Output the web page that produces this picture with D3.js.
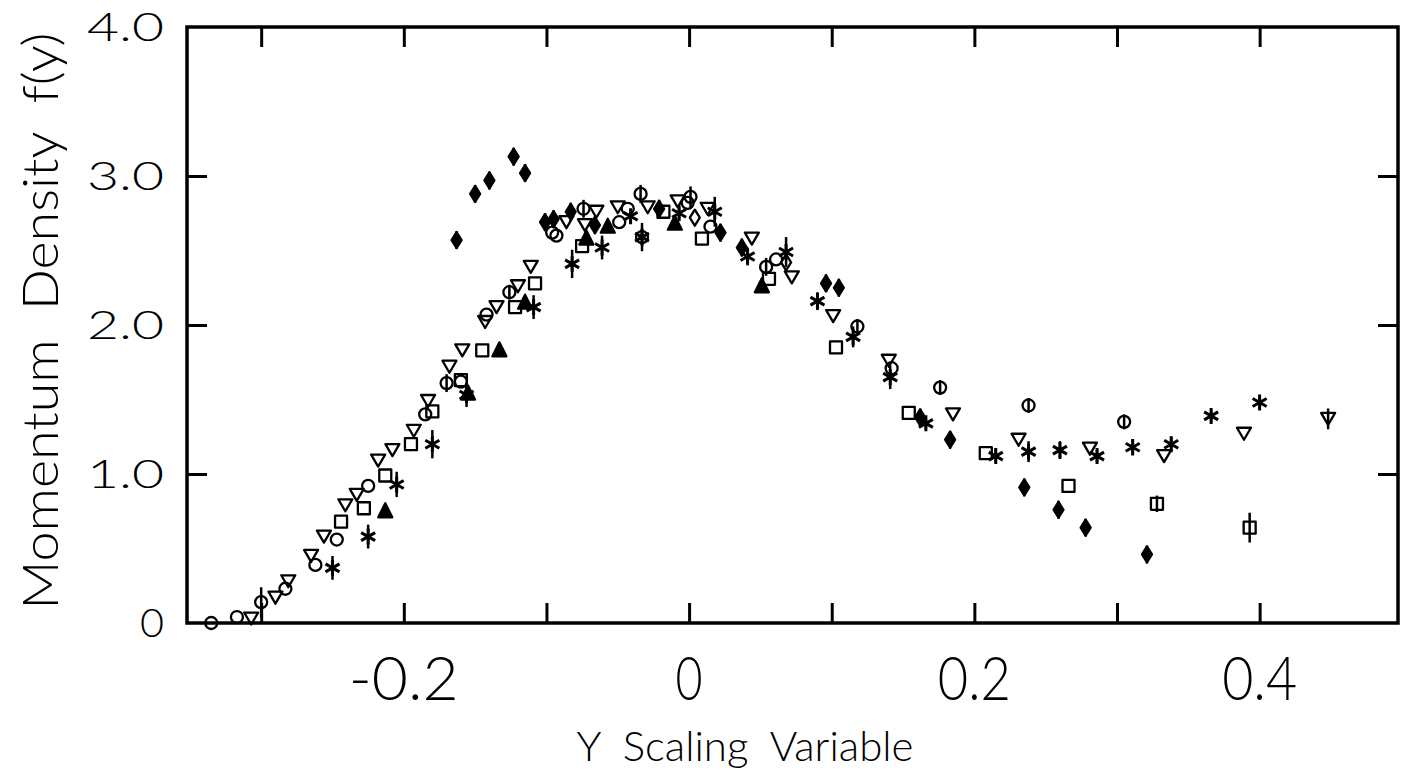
<!DOCTYPE html>
<html>
<head>
<meta charset="utf-8">
<script src="https://cdn.jsdelivr.net/npm/d3@7"></script>
<style>
  body { margin: 0; background: #fff; }
  text { font-family: Lato, "DejaVu Sans", sans-serif; font-weight: 300; fill: #000; }
</style>
</head>
<body>
<div id="chart"></div>
<script>
// filled diamonds
var diamondX = [-0.163, -0.150, -0.140, -0.123, -0.115, -0.101, -0.095, -0.083, -0.066, -0.021, 0.022, 0.037, 0.096, 0.105, 0.162, 0.183, 0.235, 0.259, 0.278, 0.321];
var diamondY = [2.57, 2.88, 2.97, 3.13, 3.02, 2.69, 2.71, 2.76, 2.67, 2.78, 2.62, 2.52, 2.28, 2.25, 1.38, 1.23, 0.91, 0.76, 0.64, 0.46];
var diamondErr = [0.06, 0.06, 0.06, 0.06, 0.06, 0.06, 0.06, 0.06, 0.06, 0.06, 0.06, 0.06, 0.06, 0.06, 0.06, 0.06, 0.06, 0.06, 0.06, 0.06];

// open circles
var circleX = [-0.335, -0.317, -0.300, -0.283, -0.262, -0.247, -0.225, -0.185, -0.170, -0.160, -0.142, -0.126, -0.096, -0.093, -0.074, -0.049, -0.043, -0.034, -0.033, -0.001, 0.001, 0.015, 0.054, 0.061, 0.118, 0.142, 0.176, 0.238, 0.305];
var circleY = [0.00, 0.04, 0.14, 0.23, 0.39, 0.56, 0.92, 1.40, 1.61, 1.62, 2.07, 2.22, 2.62, 2.60, 2.78, 2.69, 2.78, 2.88, 2.59, 2.82, 2.86, 2.66, 2.39, 2.44, 1.99, 1.71, 1.58, 1.46, 1.35];
var circleErr = [0, 0, 0.1, 0, 0, 0, 0, 0, 0.06, 0, 0, 0.05, 0, 0, 0.06, 0, 0, 0.06, 0.06, 0, 0.07, 0, 0.06, 0, 0.05, 0, 0.05, 0.05, 0.05];

// open inverted triangles
var triDownX = [-0.307, -0.290, -0.281, -0.265, -0.256, -0.241, -0.233, -0.218, -0.208, -0.193, -0.183, -0.168, -0.159, -0.143, -0.135, -0.120, -0.111, -0.086, -0.073, -0.065, -0.050, -0.029, -0.008, 0.013, 0.044, 0.072, 0.101, 0.140, 0.185, 0.231, 0.281, 0.333, 0.389, 0.448];
var triDownY = [0.03, 0.17, 0.28, 0.45, 0.58, 0.79, 0.86, 1.09, 1.16, 1.29, 1.49, 1.72, 1.83, 2.02, 2.12, 2.26, 2.39, 2.69, 2.67, 2.76, 2.79, 2.79, 2.83, 2.78, 2.58, 2.32, 2.06, 1.76, 1.40, 1.23, 1.17, 1.12, 1.27, 1.37];
var triDownErr = [0, 0, 0, 0, 0, 0, 0, 0, 0, 0, 0, 0, 0, 0, 0, 0, 0, 0, 0, 0, 0, 0, 0, 0, 0, 0, 0, 0, 0, 0, 0, 0, 0, 0.07];

// open squares
var squareX = [-0.244, -0.228, -0.213, -0.195, -0.180, -0.160, -0.145, -0.122, -0.108, -0.075, -0.018, 0.009, 0.056, 0.103, 0.154, 0.208, 0.266, 0.328, 0.393];
var squareY = [0.68, 0.77, 0.99, 1.20, 1.42, 1.63, 1.83, 2.12, 2.28, 2.53, 2.76, 2.58, 2.31, 1.85, 1.41, 1.14, 0.92, 0.80, 0.64];
var squareErr = [0, 0, 0, 0, 0, 0, 0, 0, 0, 0, 0, 0, 0, 0, 0, 0, 0, 0.055, 0.1];

// filled triangles
var triUpX = [-0.213, -0.155, -0.133, -0.115, -0.072, -0.057, -0.010, 0.051];
var triUpY = [0.75, 1.54, 1.83, 2.15, 2.58, 2.66, 2.68, 2.26];

// asterisks
var starX = [-0.250, -0.225, -0.205, -0.180, -0.156, -0.109, -0.082, -0.061, -0.041, -0.033, -0.007, 0.018, 0.041, 0.068, 0.090, 0.115, 0.141, 0.166, 0.215, 0.238, 0.260, 0.286, 0.311, 0.338, 0.366, 0.400];
var starY = [0.37, 0.58, 0.93, 1.20, 1.53, 2.12, 2.41, 2.52, 2.73, 2.59, 2.75, 2.76, 2.46, 2.49, 2.16, 1.92, 1.65, 1.34, 1.12, 1.15, 1.16, 1.12, 1.18, 1.20, 1.39, 1.48];
var starErr = [0.08, 0.08, 0.085, 0.095, 0.08, 0.08, 0.095, 0.08, 0.04, 0.095, 0.04, 0.1, 0.06, 0.1, 0.06, 0.07, 0.08, 0.04, 0.04, 0.07, 0.06, 0.04, 0.055, 0.05, 0.04, 0.045];

// open diamonds
var openDiamondX = [0.004, 0.068];
var openDiamondY = [2.72, 2.42];

// axes
var xTickVals = [-0.3, -0.2, -0.1, 0, 0.1, 0.2, 0.3, 0.4];
var xLabelVals = [-0.2, 0, 0.2, 0.4];
var xLabelText = ["-0.2", "0", "0.2", "0.4"];
var yTickVals = [1, 2, 3];
var yLabelVals = [0, 1, 2, 3, 4];
var yLabelText = ["0", "1.0", "2.0", "3.0", "4.0"];
var xTitle = "Y  Scaling  Variable";
var yTitle = "Momentum  Density  f(y)";

function draw() {
    var w = 1410;
    var h = 773;

    var x = d3.scaleLinear().domain([-0.352, 0.497]).range([187, 1398]);
    var y = d3.scaleLinear().domain([0, 4]).range([623, 27]);

    var svg = d3.select("#chart")
                .append("svg")
                .attr("width", w)
                .attr("height", h);

    // ticks on all four sides, pointing inward
    var tickLen = 20;
    var axes = [
        { ax: d3.axisBottom(x).tickValues(xTickVals), tr: "translate(0," + y(0) + ")" },
        { ax: d3.axisTop(x).tickValues(xTickVals), tr: "translate(0," + y(4) + ")" },
        { ax: d3.axisLeft(y).tickValues(yTickVals), tr: "translate(" + x.range()[0] + ",0)" },
        { ax: d3.axisRight(y).tickValues(yTickVals), tr: "translate(" + x.range()[1] + ",0)" }
    ];
    axes.forEach(function(a) {
        var g = svg.append("g")
                   .attr("transform", a.tr)
                   .call(a.ax.tickSizeInner(-tickLen).tickSizeOuter(0).tickFormat(""));
        g.select(".domain").remove();
        g.selectAll(".tick line").attr("stroke", "#000").attr("stroke-width", 3);
    });

    // frame
    svg.append("rect")
       .attr("x", x.range()[0])
       .attr("y", y(4))
       .attr("width", x.range()[1] - x.range()[0])
       .attr("height", y(0) - y(4))
       .attr("fill", "none")
       .attr("stroke", "#000")
       .attr("stroke-width", 3.5);

    // tick labels
    var xLabWidth = { "-0.2": 110, "0": 27, "0.2": 73, "0.4": 75 };
    svg.selectAll(".xlab")
       .data(xLabelVals)
       .enter()
       .append("text")
       .attr("class", "xlab")
       .attr("x", function(d) { return x(d); })
       .attr("y", 700)
       .attr("text-anchor", "middle")
       .attr("font-size", 62)
       .attr("textLength", function(d, i) { return xLabWidth[xLabelText[i]]; })
       .attr("lengthAdjust", "spacingAndGlyphs")
       .text(function(d, i) { return xLabelText[i]; });

    svg.selectAll(".ylab")
       .data(yLabelVals)
       .enter()
       .append("text")
       .attr("class", "ylab")
       .attr("x", 164)
       .attr("y", function(d) { return y(d) + 14; })
       .attr("text-anchor", "end")
       .attr("font-size", 39)
       .attr("textLength", function(d, i) { return yLabelText[i].length > 1 ? 77 : 24; })
       .attr("lengthAdjust", "spacingAndGlyphs")
       .text(function(d, i) { return yLabelText[i]; });

    // titles
    svg.append("text")
       .attr("x", 745)
       .attr("y", 761)
       .attr("text-anchor", "middle")
       .attr("font-size", 42)
       .attr("textLength", 337)
       .attr("lengthAdjust", "spacingAndGlyphs")
       .style("white-space", "pre")
       .text(xTitle);

    svg.append("text")
       .attr("transform", "translate(58,321) rotate(-90)")
       .attr("text-anchor", "middle")
       .attr("font-size", 50)
       .attr("textLength", 577)
       .attr("lengthAdjust", "spacingAndGlyphs")
       .style("white-space", "pre")
       .text(yTitle);

    // marker shapes
    var shapes = {
        diamond: "M0,-8L5,0L0,8L-5,0Z",
        triDown: "M-7,-6L7,-6L0,6Z",
        square: "M-6,-6L6,-6L6,6L-6,6Z",
        triUp: "M0,-8L7,6L-7,6Z",
        star: "M0,-8L0,8M-7,-4L7,4M-7,4L7,-4",
        openDiamond: "M0,-8L5,0L0,8L-5,0Z"
    };

    var series = [
        { xs: diamondX, ys: diamondY, err: diamondErr, shape: "diamond", fill: "#000" },
        { xs: circleX, ys: circleY, err: circleErr, shape: "circle", fill: "none" },
        { xs: triDownX, ys: triDownY, err: triDownErr, shape: "triDown", fill: "none" },
        { xs: squareX, ys: squareY, err: squareErr, shape: "square", fill: "none" },
        { xs: triUpX, ys: triUpY, err: null, shape: "triUp", fill: "#000" },
        { xs: starX, ys: starY, err: starErr, shape: "star", fill: "none" },
        { xs: openDiamondX, ys: openDiamondY, err: null, shape: "openDiamond", fill: "none" }
    ];

    var plot = svg.append("g").attr("class", "points");

    series.forEach(function(s) {
        var pts = s.xs.map(function(v, i) {
            return { x: v, y: s.ys[i], e: s.err ? s.err[i] : 0 };
        });
        var g = plot.append("g");

        // error bars
        g.selectAll("line")
         .data(pts.filter(function(d) { return d.e > 0; }))
         .enter()
         .append("line")
         .attr("x1", function(d) { return x(d.x); })
         .attr("x2", function(d) { return x(d.x); })
         .attr("y1", function(d) { return y(d.y + d.e); })
         .attr("y2", function(d) { return y(Math.max(0, d.y - d.e)); })
         .attr("stroke", "#000")
         .attr("stroke-width", 2.5);

        if (s.shape === "circle") {
            g.selectAll("circle")
             .data(pts)
             .enter()
             .append("circle")
             .attr("cx", function(d) { return x(d.x); })
             .attr("cy", function(d) { return y(d.y); })
             .attr("r", 6)
             .attr("fill", "none")
             .attr("stroke", "#000")
             .attr("stroke-width", 2.3);
        } else {
            g.selectAll("path")
             .data(pts)
             .enter()
             .append("path")
             .attr("d", shapes[s.shape])
             .attr("transform", function(d) { return "translate(" + x(d.x) + "," + y(d.y) + ")"; })
             .attr("fill", s.fill)
             .attr("stroke", "#000")
             .attr("stroke-width", s.shape === "star" ? 3 : 2.3)
             .attr("stroke-linejoin", "round");
        }
    });
}

window.onload = draw;
</script>
</body>
</html>
